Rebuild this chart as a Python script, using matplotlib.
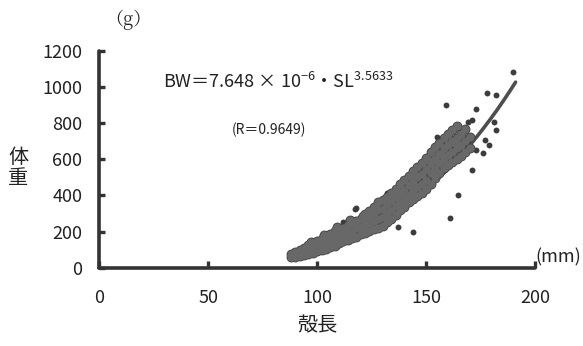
import matplotlib.pyplot as plt
import numpy as np

plt.rcParams['font.family'] = ['Noto Sans CJK JP', 'DejaVu Sans']

# shell length (mm) / body weight (g), main cloud of measurements
band_sl = [
    88, 88, 90, 90, 92, 92, 94, 94, 94, 96, 96, 96, 98, 98, 98,
    100, 100, 100, 102, 102, 102, 104, 104, 104, 106, 106, 106,
    108, 108, 108, 110, 110, 110, 112, 112, 112, 114, 114, 114,
    116, 116, 116, 118, 118, 118, 120, 120, 120,
    122, 122, 122, 122, 124, 124, 124, 124, 126, 126, 126, 126,
    128, 128, 128, 128, 130, 130, 130, 130, 132, 132, 132, 132,
    134, 134, 134, 134, 136, 136, 136, 136, 138, 138, 138, 138,
    140, 140, 140, 140, 142, 142, 142, 142, 144, 144, 144, 144,
    146, 146, 146, 146, 148, 148, 148, 148, 150, 150, 150, 150,
    152, 152, 152, 152, 154, 154, 154, 154, 156, 156, 156, 156,
    158, 158, 158, 158, 160, 160, 160, 160, 162, 162, 162, 162,
    164, 164, 164, 164, 166, 166, 166, 168, 168, 168, 170, 170,
    97, 103, 109, 115, 121, 127, 133, 139, 145, 151, 157, 163,
]
band_bw = [
    58, 75, 62, 88, 66, 96, 70, 98, 112, 74, 104, 124, 82, 112, 138,
    92, 122, 150, 98, 132, 162, 104, 142, 178, 116, 152, 186,
    122, 162, 204, 136, 168, 212, 146, 182, 222, 152, 196, 236,
    166, 204, 252, 172, 218, 258, 186, 226, 268,
    192, 236, 276, 298, 204, 246, 288, 312, 212, 258, 302, 336,
    222, 268, 318, 362, 232, 282, 328, 376, 252, 298, 352, 392,
    272, 322, 368, 412, 292, 342, 392, 438, 318, 362, 412, 462,
    334, 382, 428, 486, 362, 402, 458, 506, 378, 428, 474, 538,
    398, 446, 502, 556, 412, 466, 518, 582, 438, 488, 548, 606,
    462, 522, 572, 642, 498, 548, 602, 668, 522, 578, 628, 692,
    552, 598, 662, 718, 568, 622, 682, 742, 588, 638, 702, 762,
    602, 662, 718, 782, 618, 682, 738, 642, 702, 768, 662, 722,
    140, 180, 225, 262, 288, 330, 395, 420, 512, 596, 628, 690,
]

# scattered individuals away from the main cloud
out_sl = [189.9, 178, 182, 159, 173, 169, 171, 181, 182, 177, 179, 173,
          171, 164.5, 161, 144, 137, 118, 155, 137, 132, 117.5, 112, 114, 176]
out_bw = [1083, 966, 955, 900, 880, 806, 817, 806, 762, 707, 679, 652,
          541, 403, 276, 199, 226, 331, 723, 442, 414, 326, 254, 262, 635]

# allometric fit BW = a * SL^b
fit_a = 7.648e-6
fit_b = 3.5633
fit_range = (88, 191)

x_ticks = [0, 50, 100, 150, 200]
y_ticks = [0, 200, 400, 600, 800, 1000, 1200]

dark = '#333333'
txt = '#222222'

fig = plt.figure(figsize=(5.83, 3.46), dpi=100)
ax = fig.add_axes([0.170, 0.226, 0.748, 0.627])

sl_line = np.linspace(fit_range[0], fit_range[1], 200)
ax.plot(sl_line, fit_a * sl_line ** fit_b, color='#4e4e4e', lw=2.6,
        solid_capstyle='round', zorder=2)

# dark underlay gives the cloud its outline, lighter fill on top
ax.scatter(band_sl, band_bw, s=50, color='#3c3c3c', linewidths=0, zorder=3)
ax.scatter(out_sl, out_bw, s=18, color='#3c3c3c', linewidths=0, zorder=3)
ax.scatter(band_sl, band_bw, s=36, color='#686868', linewidths=0, zorder=4)

ax.set_xlim(0, 200)
ax.set_ylim(0, 1200)
ax.set_xticks(x_ticks)
ax.set_yticks(y_ticks)

for side in ['top', 'right']:
    ax.spines[side].set_visible(False)
for side in ['left', 'bottom']:
    ax.spines[side].set_linewidth(2.6)
    ax.spines[side].set_color(dark)
    ax.spines[side].set_capstyle('round')

ax.tick_params(axis='y', direction='in', length=4, width=2.4, color=dark,
               labelsize=13, pad=12, labelcolor=txt)
ax.tick_params(axis='x', direction='in', length=5, width=2.4, color=dark,
               labelsize=13, pad=15, labelcolor=txt)

fig.text(0.031, 0.515, '体\n重', fontsize=14.5, ha='center', va='center',
         linespacing=1.0, color=txt)
fig.text(0.544, 0.058, '殻長', fontsize=14.5, ha='center', va='center',
         color=txt)
fig.text(0.220, 0.942, '（g）', fontsize=13, ha='center', va='center',
         color=txt, family=['Noto Serif CJK JP', 'DejaVu Serif'])
fig.text(0.997, 0.256, '(mm)', fontsize=13, ha='right', va='center',
         color=txt)

ax.text(0.146, 0.855,
        r'BW＝7.648 × 10$^{\mathregular{-6}}$・SL$^{\mathregular{3.5633}}$',
        transform=ax.transAxes, fontsize=13, ha='left', va='center',
        color=txt)
ax.text(0.39, 0.635, '(R＝0.9649)', transform=ax.transAxes, fontsize=10,
        ha='center', va='center', color=txt)

fig.savefig('out.png', dpi=100, facecolor='white')
